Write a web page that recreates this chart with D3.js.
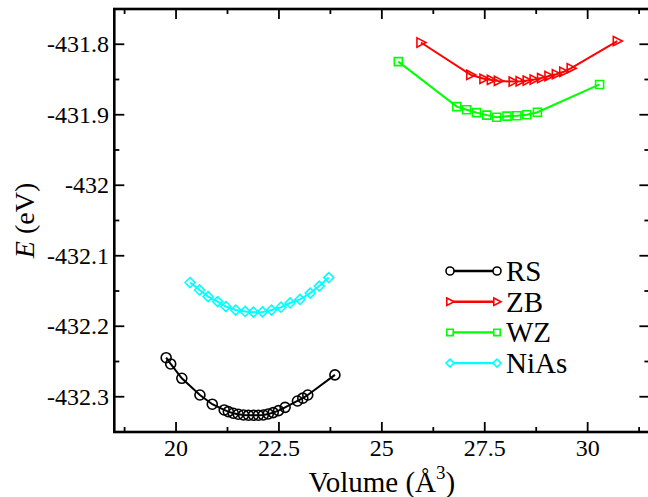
<!DOCTYPE html>
<html>
<head>
<meta charset="utf-8">
<script src="https://cdn.jsdelivr.net/npm/d3@7"></script>
<style>
  body { margin: 0; background: #fff; }
</style>
</head>
<body>
<svg></svg>
<script>
var width = 648;
var height = 497;

// data (volume in A^3, energy in eV)
var rsVol = [19.76, 19.87, 20.14, 20.58, 20.88, 21.17, 21.27, 21.39, 21.51, 21.64, 21.76, 21.88, 22.00, 22.12, 22.24, 22.36, 22.49, 22.65, 22.95, 23.08, 23.20, 23.86];
var rsE = [-432.2446, -432.2535, -432.2738, -432.2975, -432.3106, -432.3187, -432.3211, -432.3234, -432.3248, -432.3258, -432.3262, -432.3262, -432.3262, -432.3258, -432.3244, -432.3225, -432.3197, -432.315, -432.306, -432.302, -432.2975, -432.269];

var zbVol = [25.95, 27.16, 27.48, 27.66, 27.83, 28.19, 28.36, 28.53, 28.70, 28.88, 29.06, 29.24, 29.42, 29.60, 30.72];
var zbE = [-431.7975, -431.8435, -431.849, -431.8506, -431.852, -431.853, -431.8525, -431.8515, -431.850, -431.848, -431.845, -431.8425, -431.839, -431.834, -431.7955];

var wzVol = [25.40, 26.82, 27.06, 27.30, 27.55, 27.79, 28.04, 28.28, 28.52, 28.78, 30.29];
var wzE = [-431.8247, -431.8885, -431.893, -431.897, -431.9005, -431.9035, -431.902, -431.9015, -431.900, -431.8965, -431.857];

var niasVol = [20.34, 20.57, 20.78, 21.01, 21.21, 21.45, 21.68, 21.88, 22.10, 22.32, 22.55, 22.77, 23.01, 23.26, 23.48, 23.71];
var niasE = [-432.138, -432.1485, -432.158, -432.165, -432.172, -432.177, -432.179, -432.180, -432.1797, -432.177, -432.173, -432.167, -432.162, -432.153, -432.143, -432.131];

var seriesNames = ["RS", "ZB", "WZ", "NiAs"];
var seriesColors = ["#000000", "#ff0000", "#00ff00", "#00ffff"];

var xMajor = [20, 22.5, 25, 27.5, 30];
var xMinor = [18.75, 21.25, 23.75, 26.25, 28.75, 31.25];
var yMajor = [-431.8, -431.9, -432, -432.1, -432.2, -432.3];
var yMinor = [-431.85, -431.95, -432.05, -432.15, -432.25];

var series = [
  { name: seriesNames[0], color: seriesColors[0], symbol: "circle", pts: rsVol.map((v, i) => [v, rsE[i]]) },
  { name: seriesNames[1], color: seriesColors[1], symbol: "triangle", pts: zbVol.map((v, i) => [v, zbE[i]]) },
  { name: seriesNames[2], color: seriesColors[2], symbol: "square", pts: wzVol.map((v, i) => [v, wzE[i]]) },
  { name: seriesNames[3], color: seriesColors[3], symbol: "diamond", pts: niasVol.map((v, i) => [v, niasE[i]]) }
];

// frame edges (right one falls just outside the picture)
var fLeft = 114.3, fRight = 649.4, fTop = 9, fBottom = 432;

var x = d3.scaleLinear().domain([18.5, 31.5]).range([fLeft, fRight]);
var y = d3.scaleLinear().domain([-432.35, -431.75]).range([fBottom, fTop]);

var svg = d3.select("svg")
    .attr("width", width)
    .attr("height", height)
    .style("font-family", "'Liberation Serif', serif");

// marker shapes, s = scale
function symbolPath(type, s) {
  if (type === "circle") {
    var r = 5 * s;
    return `M${-r},0A${r},${r} 0 1,0 ${r},0A${r},${r} 0 1,0 ${-r},0Z`;
  }
  if (type === "triangle") return `M${-4 * s},${-4.6 * s}L${5 * s},0L${-4 * s},${4.6 * s}Z`;
  if (type === "square") { var h = 4 * s; return `M${-h},${-h}H${h}V${h}H${-h}Z`; }
  var d = 5 * s;
  return `M${-d},0L0,${-d}L${d},0L0,${d}Z`;
}

// ticks, inside on all four sides
var ticks = svg.append("g").attr("stroke", "#000").attr("stroke-width", 1.8);

xMajor.concat(xMinor).forEach(v => {
  var len = xMajor.indexOf(v) > -1 ? 10 : 5;
  ticks.append("line").attr("x1", x(v)).attr("x2", x(v)).attr("y1", fBottom).attr("y2", fBottom - len);
  ticks.append("line").attr("x1", x(v)).attr("x2", x(v)).attr("y1", fTop).attr("y2", fTop + len);
});
yMajor.concat(yMinor).forEach(v => {
  var len = yMajor.indexOf(v) > -1 ? 10 : 5;
  ticks.append("line").attr("y1", y(v)).attr("y2", y(v)).attr("x1", fLeft).attr("x2", fLeft + len);
  ticks.append("line").attr("y1", y(v)).attr("y2", y(v)).attr("x1", fRight).attr("x2", fRight - len);
});

svg.append("rect")
    .attr("x", fLeft)
    .attr("y", fTop)
    .attr("width", fRight - fLeft)
    .attr("height", fBottom - fTop)
    .attr("fill", "none")
    .attr("stroke", "#000")
    .attr("stroke-width", 2.6);

// tick labels
svg.append("g")
  .selectAll("text")
  .data(xMajor)
  .enter()
  .append("text")
    .attr("x", d => x(d))
    .attr("y", 456)
    .style("font-size", "24px")
    .style("text-anchor", "middle")
    .text(d => String(d));

svg.append("g")
  .selectAll("text")
  .data(yMajor)
  .enter()
  .append("text")
    .attr("x", 109)
    .attr("y", d => y(d) + 8)
    .style("font-size", "24px")
    .style("text-anchor", "end")
    .text(d => String(+d.toFixed(1)));

// axis titles
var xt = svg.append("text")
    .attr("x", (fLeft + fRight) / 2)
    .attr("y", 492)
    .style("font-size", "29px")
    .style("text-anchor", "middle");
xt.append("tspan").text("Volume (\u00c5");
xt.append("tspan").attr("dy", -13).style("font-size", "19px").text("3");
xt.append("tspan").attr("dy", 13).text(")");

var yt = svg.append("text")
    .attr("transform", `translate(34, ${(fTop + fBottom) / 2}) rotate(-90)`)
    .style("font-size", "28px")
    .style("text-anchor", "middle");
yt.append("tspan").style("font-style", "italic").text("E");
yt.append("tspan").text(" (eV)");

// series
var line = d3.line().x(d => x(d[0])).y(d => y(d[1]));

var plot = svg.append("g");
series.forEach(s => {
  plot.append("path")
      .attr("d", line(s.pts))
      .attr("fill", "none")
      .attr("stroke", s.color)
      .attr("stroke-width", 2);

  plot.append("g")
    .selectAll("path")
    .data(s.pts)
    .enter()
    .append("path")
      .attr("transform", d => `translate(${x(d[0])}, ${y(d[1])})`)
      .attr("d", symbolPath(s.symbol, 1))
      .attr("fill", "none")
      .attr("stroke", s.color)
      .attr("stroke-width", 1.6);
});

// legend
var legend = svg.append("g").attr("transform", "translate(450, 271)");
series.forEach((s, i) => {
  var g = legend.append("g").attr("transform", `translate(0, ${i * 30.7})`);
  g.append("line")
      .attr("x1", 0).attr("x2", 47)
      .attr("stroke", s.color)
      .attr("stroke-width", 2.4);
  [0, 47].forEach(px => {
    g.append("path")
        .attr("transform", `translate(${px}, 0)`)
        .attr("d", symbolPath(s.symbol, 0.8))
        .attr("fill", "#fff")
        .attr("stroke", s.color)
        .attr("stroke-width", 1.6);
  });
  g.append("text")
      .attr("x", 56)
      .attr("y", 10)
      .style("font-size", "29px")
      .text(s.name);
});
</script>
</body>
</html>
